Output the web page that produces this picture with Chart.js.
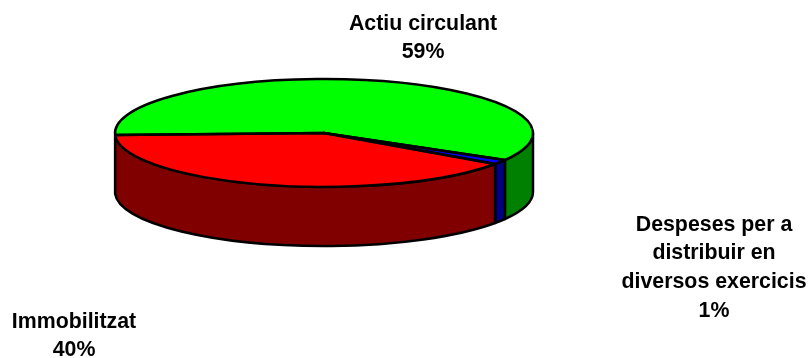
<!DOCTYPE html>
<html>
<head>
<meta charset="utf-8">
<style>
html, body { margin: 0; padding: 0; background: #fff; }
#wrap { width: 809px; height: 358px; }
</style>
<script src="https://cdn.jsdelivr.net/npm/chart.js@4"></script>
</head>
<body>
<div id="wrap"><canvas id="myChart" width="809" height="358"></canvas></div>
<script>
var categories = ["Actiu circulant", "Despeses per a distribuir en diversos exercicis", "Immobilitzat"];
var values = [58.9, 1.4, 39.7];
var topColors = ["#00ff00", "#0000ff", "#ff0000"];
var wallColors = ["#008000", "#000080", "#800000"];
var labelLines = [
    ["Actiu circulant", "59%"],
    ["Despeses per a", "distribuir en", "diversos exercicis", "1%"],
    ["Immobilitzat", "40%"]
];
var labelSpots = [[423, 24], [714, 225], [74, 322]];

var squash = 0.258;
var depth = 59;

// outline of one slice's top, stroked after the squash is undone so the line stays even
function ring(ctx, a, y0) {
    var ry = a.outerRadius * squash;
    ctx.beginPath();
    ctx.moveTo(a.x, y0);
    ctx.lineTo(a.x + a.outerRadius * Math.cos(a.startAngle), y0 + ry * Math.sin(a.startAngle));
    ctx.ellipse(a.x, y0, a.outerRadius, ry, 0, a.startAngle, a.endAngle);
    ctx.closePath();
}

var pie3d = {
    id: "pie3d",
    beforeDatasetsDraw: function (chart) {
        var ctx = chart.ctx;
        var arcs = chart.getDatasetMeta(0).data;
        var cx = arcs[0].x, cy = arcs[0].y, r = arcs[0].outerRadius;
        var ry = r * squash;

        ctx.save();
        ctx.lineWidth = 2.5;
        ctx.strokeStyle = "#000";
        ctx.lineJoin = "round";
        // side walls, only the part of each slice that faces the viewer
        arcs.forEach(function (a, i) {
            // angles run past 2pi, so test the front half on both turns
            [0, Math.PI * 2].forEach(function (turn) {
                var s = Math.max(a.startAngle, turn);
                var e = Math.min(a.endAngle, turn + Math.PI);
                if (e <= s) return;
                ctx.beginPath();
                ctx.ellipse(cx, cy, r, ry, 0, s, e);
                ctx.ellipse(cx, cy + depth, r, ry, 0, e, s, true);
                ctx.closePath();
                ctx.fillStyle = wallColors[i];
                ctx.fill();
                ctx.stroke();
            });
        });
        ctx.restore();

        // the library draws the slices inside this squashed space
        ctx.save();
        ctx.translate(cx, cy);
        ctx.scale(1, squash);
        ctx.translate(-cx, -cy);
    },
    afterDatasetsDraw: function (chart) {
        var ctx = chart.ctx;
        ctx.restore();

        ctx.save();
        ctx.lineWidth = 2.5;
        ctx.strokeStyle = "#000";
        ctx.lineJoin = "round";
        chart.getDatasetMeta(0).data.forEach(function (a) {
            ring(ctx, a, a.y);
            ctx.stroke();
        });

        ctx.fillStyle = "#000";
        ctx.font = "bold 21.33px 'Liberation Sans', Arial, sans-serif";
        ctx.textAlign = "center";
        ctx.textBaseline = "middle";
        labelLines.forEach(function (lines, i) {
            lines.forEach(function (line, j) {
                ctx.fillText(line, labelSpots[i][0], labelSpots[i][1] + j * 28.6);
            });
        });
        ctx.restore();
    }
};

new Chart(document.getElementById("myChart"), {
    type: "pie",
    data: {
        labels: categories,
        datasets: [{
            data: values,
            backgroundColor: topColors,
            borderWidth: 0
        }]
    },
    options: {
        responsive: false,
        animation: false,
        rotation: -92,
        radius: 209,
        layout: { padding: { right: 161, bottom: 92 } },
        plugins: {
            legend: { display: false },
            tooltip: { enabled: false }
        }
    },
    plugins: [pie3d]
});
</script>
</body>
</html>
